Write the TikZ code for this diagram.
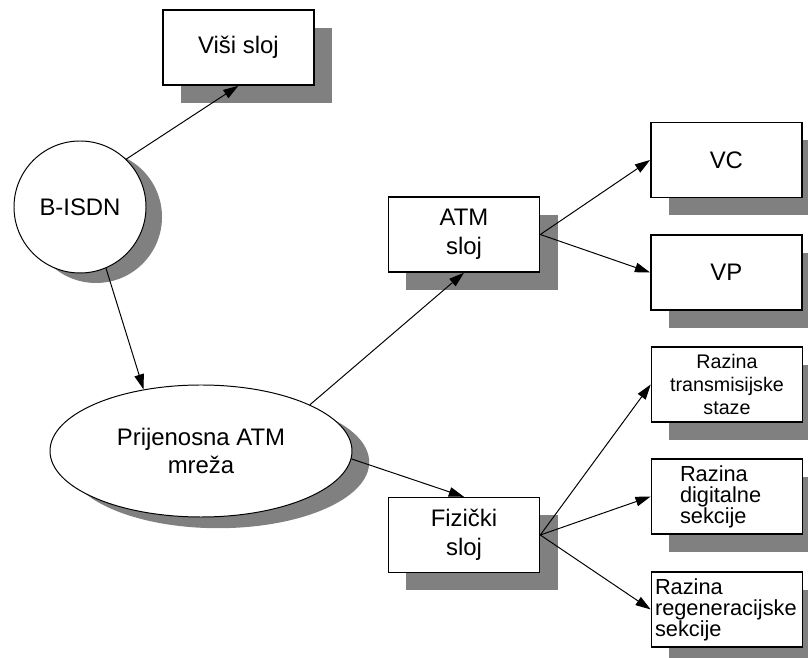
\documentclass[tikz,border=0pt]{standalone}
\usepackage{fontspec}
\setmainfont{Liberation Sans}
\usetikzlibrary{shapes.geometric,shadows,arrows.meta}
\definecolor{shadowgray}{RGB}{128,128,128}

\tikzset{
  layerbox/.style={draw, line width=1pt, fill=white, minimum width=3.78cm,
    minimum height=1.875cm, align=center, font=\fontsize{17}{20.5}\selectfont,
    drop shadow={shadow xshift=0.45cm, shadow yshift=-0.45cm, fill=shadowgray, opacity=1}},
  razbox/.style={layerbox, inner xsep=2pt, font=\fontsize{15.5}{15}\selectfont},
  roundnode/.style={draw, line width=0.7pt, fill=white, align=center,
    font=\fontsize{17}{20.5}\selectfont},
  link/.style={line width=0.7pt, -{Triangle[length=0.38cm,width=0.24cm]}}
}

\begin{document}
\begin{tikzpicture}
    \useasboundingbox (0,0) rectangle (20.2,16.45);

    % upper layer and B-ISDN
    \node[layerbox] (visi) at (5.96,15.26) {Viši sloj};
    \node[roundnode, circle, minimum size=3.3cm,
      drop shadow={shadow xshift=0.4cm, shadow yshift=-0.25cm, fill=shadowgray, opacity=1}]
      (bisdn) at (2.0,11.275) {B-ISDN};

    % transport network
    \node[roundnode, ellipse, minimum width=7.55cm, minimum height=3.3cm,
      drop shadow={shadow xshift=0.43cm, shadow yshift=-0.28cm, fill=shadowgray, opacity=1}]
      (mreza) at (5.025,5.175) {Prijenosna ATM\\mreža};

    % layers
    \node[layerbox] (atm) at (11.6,10.5875) {ATM\\sloj};
    \node[layerbox] (fizicki) at (11.6,3.075) {Fizički\\sloj};

    % ATM layer parts
    \node[layerbox] (vc) at (18.16,12.45) {VC};
    \node[layerbox] (vp) at (18.16,9.6375) {VP};

    % physical layer parts
    \node[razbox, font=\fontsize{14}{16.3}\selectfont] (transm) at (18.175,6.8375) {Razina\\transmisijske\\staze};
    \node[razbox, text width=2.35cm, align=left] (digit) at (18.175,4.0375) {Razina\\digitalne\\sekcije};
    \node[razbox, text width=3.6cm, align=left] (regen) at (18.175,1.2125) {Razina\\regeneracijske\\sekcije};

    % arrows
    \draw[link] (bisdn.46) -- (visi.south);
    \draw[link] (bisdn.-67) -- (mreza.133);
    \draw[link] (mreza.23) -- (atm.south);
    \draw[link] (mreza.-3) -- (fizicki.north);
    \draw[link] (atm.east) -- (vc.west);
    \draw[link] (atm.east) -- (vp.west);
    \draw[link] (fizicki.east) -- (transm.west);
    \draw[link] (fizicki.east) -- (digit.west);
    \draw[link] (fizicki.east) -- (regen.west);
\end{tikzpicture}
\end{document}
